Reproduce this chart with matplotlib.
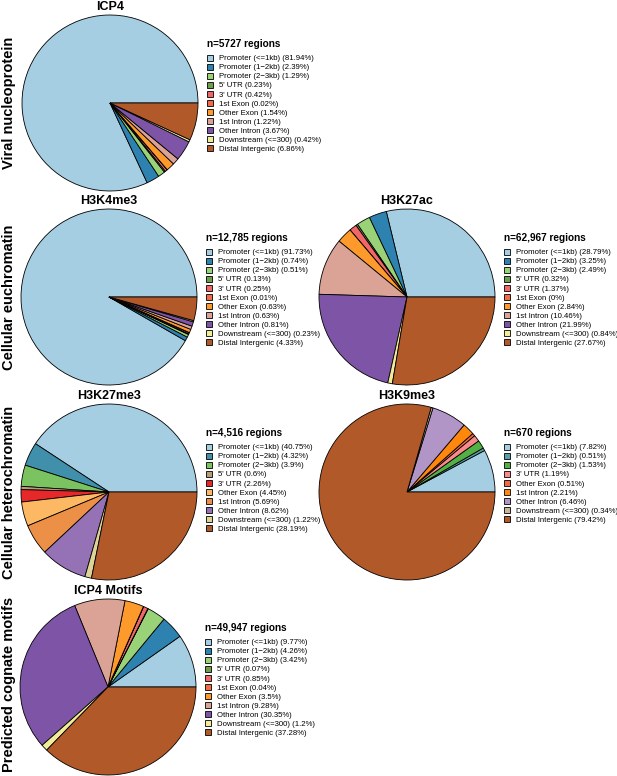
import numpy as np
import matplotlib
matplotlib.use("Agg")
import matplotlib.pyplot as plt

plt.rcParams['font.family'] = ['Liberation Sans', 'DejaVu Sans']

# ---------------- data ----------------
cats_all = ["Promoter (<=1kb)", "Promoter (1\u22122kb)", "Promoter (2\u22123kb)", "5' UTR", "3' UTR",
            "1st Exon", "Other Exon", "1st Intron", "Other Intron", "Downstream (<=300)",
            "Distal Intergenic"]
cats_k27me3 = ["Promoter (<=1kb)", "Promoter (1\u22122kb)", "Promoter (2\u22123kb)", "5' UTR", "3' UTR",
               "Other Exon", "1st Intron", "Other Intron", "Downstream (<=300)", "Distal Intergenic"]
cats_k9me3 = ["Promoter (<=1kb)", "Promoter (1\u22122kb)", "Promoter (2\u22123kb)", "3' UTR",
              "Other Exon", "1st Intron", "Other Intron", "Downstream (<=300)", "Distal Intergenic"]

icp4_vals = [81.94, 2.39, 1.29, 0.23, 0.42, 0.02, 1.54, 1.22, 3.67, 0.42, 6.86]
k4me3_vals = [91.73, 0.74, 0.51, 0.13, 0.25, 0.01, 0.63, 0.63, 0.81, 0.23, 4.33]
k27ac_vals = [28.79, 3.25, 2.49, 0.32, 1.37, 0, 2.84, 10.46, 21.99, 0.84, 27.67]
k27me3_vals = [40.75, 4.32, 3.9, 0.6, 2.26, 4.45, 5.69, 8.62, 1.22, 28.19]
k9me3_vals = [7.82, 0.51, 1.53, 1.19, 0.51, 2.21, 6.46, 0.34, 79.42]
motif_vals = [9.77, 4.26, 3.42, 0.07, 0.85, 0.04, 3.5, 9.28, 30.35, 1.2, 37.28]

titles = ["ICP4", "H3K4me3", "H3K27ac", "H3K27me3", "H3K9me3", "ICP4 Motifs"]
counts = ["5727", "12,785", "62,967", "4,516", "670", "49,947"]
row_labels = ["Viral nucleoprotein", "Cellular euchromatin",
              "Cellular heterochromatin", "Predicted cognate motifs"]

paired = ["#a6cee3", "#1f78b4", "#b2df8a", "#33a02c", "#fb9a99", "#e31a1c",
          "#fdbf6f", "#ff7f00", "#cab2d6", "#6a3d9a", "#ffff99", "#b15928"]


def ramp(n):
    base = np.array([[int(h[i:i + 2], 16) for i in (1, 3, 5)] for h in paired], float)
    xs = np.linspace(0, len(paired) - 1, n)
    out = []
    for x in xs:
        rgb = [np.interp(x, np.arange(len(paired)), base[:, c]) for c in range(3)]
        out.append(tuple(np.round(rgb) / 255.0))
    return out


panels = [
    # (title, count, cats, vals, center x px, center y px)
    (titles[0], counts[0], cats_all, icp4_vals, 110, 103),
    (titles[1], counts[1], cats_all, k4me3_vals, 109, 297),
    (titles[2], counts[2], cats_all, k27ac_vals, 407, 297),
    (titles[3], counts[3], cats_k27me3, k27me3_vals, 109, 492),
    (titles[4], counts[4], cats_k9me3, k9me3_vals, 407, 492),
    (titles[5], counts[5], cats_all, motif_vals, 108, 687),
]

W, H = 617, 776
fig = plt.figure(figsize=(W / 100, H / 100), dpi=100)
R = 88

for title, n, cats, vals, cx, cy in panels:
    ax = fig.add_axes([(cx - R) / W, 1 - (cy + R) / H, 2 * R / W, 2 * R / H])
    cols = ramp(len(cats))
    wedges, _ = ax.pie(vals, colors=cols, startangle=0, counterclock=True,
                       wedgeprops=dict(edgecolor="black", linewidth=0.6))
    ax.set_xlim(-1, 1)
    ax.set_ylim(-1, 1)
    ax.set_aspect("equal")
    ax.axis("off")
    fig.text(cx / W, 1 - (cy - 96) / H, title, ha="center", va="center",
             fontsize=9, fontweight="bold")
    labels = [f"{c} ({v:g}%)" for c, v in zip(cats, vals)]
    leg = fig.legend(wedges, labels, title=f"n={n} regions",
                     loc="upper left",
                     bbox_to_anchor=((cx + 97) / W, 1 - (cy - 64) / H),
                     frameon=False, fontsize=5.6, title_fontsize=7.2,
                     handlelength=0.8, handleheight=0.8, handletextpad=0.7,
                     labelspacing=0.18, borderpad=0, borderaxespad=0,
                     alignment="left")
    leg.get_title().set_fontweight("bold")
    leg._legend_box.sep = 4

row_y = [103, 297, 492, 684]
for lab, y in zip(row_labels, row_y):
    fig.text(9 / W, 1 - y / H, lab, rotation=90, ha="center", va="center",
             fontsize=10.5, fontweight="bold")

fig.savefig("out.png", dpi=100)
